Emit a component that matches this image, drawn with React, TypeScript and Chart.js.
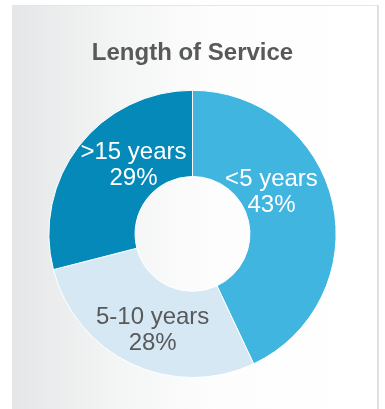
import React, { useEffect, useRef } from "react";
import { Chart, registerables } from "chart.js";

Chart.register(...registerables);

const categories = ["<5 years", "5-10 years", ">15 years"];
const percentValues = [43, 28, 29];
const sliceColors = ["#40b5e0", "#d5e8f3", "#0589b8"];
const labelColors = ["#ffffff", "#58595b", "#ffffff"];
const chartTitle = "Length of Service";

const sliceLabelPlugin = {
  id: "sliceLabels",
  afterDatasetsDraw(chart: any) {
    const meta = chart.getDatasetMeta(0);
    const ctx = chart.ctx;
    const angleShift = [-0.26, -0.05, 0.2];
    const radiusFactor = [0.62, 0.73, 0.63];
    ctx.save();
    ctx.font = "24px 'Liberation Sans', Arial, sans-serif";
    ctx.textAlign = "center";
    ctx.textBaseline = "middle";
    meta.data.forEach((arc: any, i: number) => {
      const { x, y, startAngle, endAngle, outerRadius } = arc.getProps(
        ["x", "y", "startAngle", "endAngle", "outerRadius"],
        true
      );
      const mid = (startAngle + endAngle) / 2 + angleShift[i];
      const r = outerRadius * radiusFactor[i];
      const cx = x + Math.cos(mid) * r;
      const cy = y + Math.sin(mid) * r;
      ctx.fillStyle = labelColors[i];
      ctx.fillText(String(chart.data.labels[i]), cx, cy - 13);
      ctx.fillText(percentValues[i] + "%", cx, cy + 13);
    });
    ctx.restore();
  },
};

export default function App() {
  const canvasRef = useRef<HTMLCanvasElement | null>(null);

  useEffect(() => {
    document.body.style.margin = "0";
    const chart = new Chart(canvasRef.current as HTMLCanvasElement, {
      type: "doughnut",
      data: {
        labels: categories,
        datasets: [
          {
            data: percentValues,
            backgroundColor: sliceColors,
            borderColor: "#ffffff",
            borderWidth: 1,
          },
        ],
      },
      options: {
        animation: false,
        responsive: false,
        cutout: "40%",
        layout: { padding: { left: 47, right: 47, bottom: 31, top: 0 } },
        plugins: {
          legend: { display: false },
          tooltip: { enabled: false },
          title: {
            display: true,
            text: chartTitle,
            color: "#58595b",
            font: { family: "'Liberation Sans', Arial, sans-serif", size: 24, weight: "bold" },
            padding: { top: 39, bottom: 22 },
          },
        },
      },
      plugins: [sliceLabelPlugin],
    });
    return () => chart.destroy();
  }, []);

  return (
    <div style={{ position: "relative", width: 385, height: 409, overflow: "hidden" }}>
      <div
        style={{
          position: "absolute",
          left: 12,
          top: 5,
          width: 365,
          height: 410,
          borderTop: "1px solid #e6e6e6",
          borderRight: "2px solid #e0e0e0",
          background: "linear-gradient(to right, #e5e6e7 0%, #f4f5f5 30%, #fdfdfd 55%, #ffffff 100%)",
        }}
      />
      <canvas
        ref={canvasRef}
        width={385}
        height={409}
        style={{ position: "absolute", left: 0, top: 0, width: 385, height: 409 }}
      />
    </div>
  );
}
